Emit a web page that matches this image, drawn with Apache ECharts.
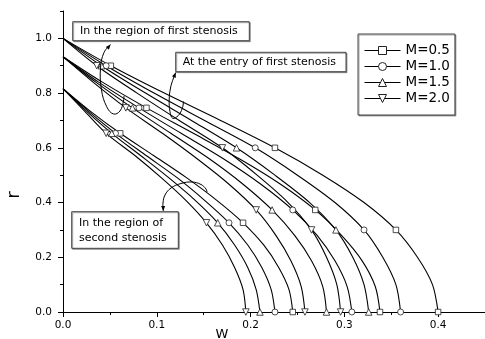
<!DOCTYPE html>
<html><head><meta charset="utf-8">
<script src="https://cdn.jsdelivr.net/npm/echarts@6/dist/echarts.min.js"></script>
<style>html,body{margin:0;padding:0;background:#fff}#c{width:485px;height:339px}</style>
</head><body><div id="c"></div>
<script>
// ---- data ----
const seriesNames = ['M=0.5', 'M=1.0', 'M=1.5', 'M=2.0'];
const xTicks = [0, 0.1, 0.2, 0.3, 0.4];
const xMinorTicks = [0.05, 0.15, 0.25, 0.35];
const yTicks = [0, 0.2, 0.4, 0.6, 0.8, 1.0];
const yMinorTicks = [0.1, 0.3, 0.5, 0.7, 0.9, 1.1];

// radial positions r for the three profile groups
const rFirstRegion = [1.0, 0.9, 0.8, 0.7, 0.6, 0.5, 0.4, 0.3, 0.2, 0.1, 0.0];
const rFirstEntry  = [0.933, 0.840, 0.746, 0.653, 0.560, 0.467, 0.373, 0.280, 0.187, 0.093, 0.0];
const rSecond      = [0.816, 0.734, 0.653, 0.571, 0.490, 0.408, 0.326, 0.245, 0.163, 0.082, 0.0];

// indices of the points carrying a marker
const markFirstRegion = [1, 4, 7, 10];
const markFirstEntry  = [2, 6, 10];
const markSecond      = [2, 6, 10];

// axial velocity w  (in the region of first stenosis)
const wFirstRegion_M05 = [0, 0.051, 0.108, 0.168, 0.226, 0.277, 0.321, 0.355, 0.378, 0.394, 0.400];
const wFirstRegion_M10 = [0, 0.046, 0.097, 0.151, 0.205, 0.250, 0.290, 0.321, 0.341, 0.355, 0.360];
const wFirstRegion_M15 = [0, 0.041, 0.088, 0.137, 0.185, 0.226, 0.263, 0.291, 0.309, 0.321, 0.326];
const wFirstRegion_M20 = [0, 0.036, 0.079, 0.124, 0.170, 0.207, 0.240, 0.265, 0.281, 0.292, 0.296];
// at the entry of first stenosis
const wFirstEntry_M05 = [0, 0.042, 0.089, 0.139, 0.188, 0.232, 0.269, 0.297, 0.319, 0.333, 0.338];
const wFirstEntry_M10 = [0, 0.038, 0.081, 0.126, 0.171, 0.211, 0.245, 0.271, 0.290, 0.303, 0.308];
const wFirstEntry_M15 = [0, 0.035, 0.074, 0.115, 0.156, 0.192, 0.223, 0.247, 0.265, 0.277, 0.281];
const wFirstEntry_M20 = [0, 0.032, 0.067, 0.106, 0.143, 0.177, 0.206, 0.227, 0.243, 0.254, 0.258];
// in the region of second stenosis
const wSecond_M05 = [0, 0.029, 0.061, 0.097, 0.132, 0.164, 0.192, 0.214, 0.230, 0.241, 0.245];
const wSecond_M10 = [0, 0.027, 0.056, 0.089, 0.122, 0.151, 0.177, 0.197, 0.212, 0.222, 0.226];
const wSecond_M15 = [0, 0.025, 0.052, 0.083, 0.113, 0.141, 0.165, 0.183, 0.197, 0.206, 0.210];
const wSecond_M20 = [0, 0.023, 0.046, 0.077, 0.105, 0.131, 0.153, 0.170, 0.183, 0.192, 0.195];

// ---- chart ----
const FONT = 'DejaVu Sans';
const groups = [
  { r: rFirstRegion, marks: markFirstRegion, w: [wFirstRegion_M05, wFirstRegion_M10, wFirstRegion_M15, wFirstRegion_M20] },
  { r: rFirstEntry,  marks: markFirstEntry,  w: [wFirstEntry_M05, wFirstEntry_M10, wFirstEntry_M15, wFirstEntry_M20] },
  { r: rSecond,      marks: markSecond,      w: [wSecond_M05, wSecond_M10, wSecond_M15, wSecond_M20] }
];
const symbols = ['rect', 'circle', 'triangle', 'path://M0,0L10,0L5,8.66Z'];
const symSizes = [5.5, 6, 6.5, 6.5];

const series = [];
groups.forEach(g => g.w.forEach((ws, k) => {
  series.push({
    type: 'line', name: seriesNames[k], xAxisIndex: 0, yAxisIndex: 0,
    smooth: 0.3, symbol: symbols[k], symbolSize: symSizes[k],
    lineStyle: { color: '#000', width: 1.1 },
    itemStyle: { color: '#fff', borderColor: '#222', borderWidth: 0.8 },
    emphasis: { disabled: true },
    data: ws.map((w, i) => ({ value: [w, g.r[i]], symbol: g.marks.includes(i) ? symbols[k] : 'none' })),
    z: 2
  });
}));

function box(x, y, w, h) {
  return { type: 'rect', z: 50, shape: { x, y, width: w, height: h },
    style: { fill: '#fff', stroke: '#444', lineWidth: 1, shadowColor: 'rgba(0,0,0,0.35)', shadowOffsetX: 1, shadowOffsetY: 1 } };
}
function txt(x, y, t, size) {
  return { type: 'text', z: 51, x, y,
    style: { text: t, font: size + 'px "' + FONT + '"', fill: '#000', verticalAlign: 'middle', align: 'left' } };
}
function arrow(points) {
  const tip = points[0], p = points[1];
  let dx = tip[0] - p[0], dy = tip[1] - p[1];
  const L = Math.hypot(dx, dy); dx /= L; dy /= L;
  const len = 5, hw = 2;
  const bx = tip[0] - dx * len, by = tip[1] - dy * len;
  return [
    { type: 'polyline', z: 40, shape: { points, smooth: 0.4 }, style: { stroke: '#000', lineWidth: 1, fill: null } },
    { type: 'polygon', z: 41, shape: { points: [tip, [bx - dy * hw, by + dx * hw], [bx + dy * hw, by - dx * hw]] }, style: { fill: '#000' } }
  ];
}

const graphic = [
  box(72.7, 21.7, 176.6, 19), txt(80, 31.4, 'In the region of first stenosis', 11),
  box(175.7, 52.3, 170.3, 19.4), txt(182.7, 62.2, 'At the entry of first stenosis', 11),
  box(71.7, 211.7, 106.6, 36.6), txt(79, 223.5, 'In the region of', 11), txt(79, 238.3, 'second stenosis', 11),
  ...arrow([[110.5, 44.5], [104, 52.5], [100.5, 68], [101.5, 90], [106.7, 106.7], [113.5, 114], [120, 111], [123.5, 101], [124, 96]]),
  ...arrow([[175.8, 72.5], [173.5, 78], [170.5, 88], [169.2, 100], [170, 111.7], [172.7, 118.3], [178.3, 115.5], [182.3, 108.3], [183.5, 101.5]]),
  ...arrow([[163.3, 211], [163, 203], [165, 195], [171, 188], [181, 183.5], [192, 182], [201, 184.5], [206, 189], [207, 192]]),
  { type: 'text', z: 51, x: 222, y: 335,
    style: { text: 'W', font: '13px "' + FONT + '"', fill: '#000', verticalAlign: 'middle', align: 'center' } },
  { type: 'text', z: 51, x: 14, y: 195, rotation: Math.PI / 2,
    style: { text: 'r', font: '18px "' + FONT + '"', fill: '#000', verticalAlign: 'middle', align: 'center' } }
];

const axisCommon = { type: 'value', splitLine: { show: false } };
const labelStyle = { color: '#000', fontFamily: FONT, fontSize: 10.5 };

const option = {
  animation: false,
  backgroundColor: '#fff',
  grid: { left: 63, top: 11, width: 423, height: 301 },
  legend: {
    data: seriesNames, orient: 'vertical', left: 358, top: 34,
    padding: [9, 5, 9, 6], itemWidth: 36, itemHeight: 10, itemGap: 1,
    borderColor: '#444', borderWidth: 1, backgroundColor: '#fff',
    shadowColor: 'rgba(0,0,0,0.35)', shadowOffsetX: 1, shadowOffsetY: 1,
    selectedMode: false,
    itemStyle: { color: '#fff', borderColor: '#222', borderWidth: 1 },
    lineStyle: { color: '#000', width: 1 },
    textStyle: { color: '#000', fontFamily: FONT, fontSize: 13.5, lineHeight: 15 }
  },
  xAxis: [
    Object.assign({}, axisCommon, { min: 0, max: 0.45, position: 'bottom',
      axisLine: { show: true, onZero: false, lineStyle: { color: '#000', width: 1 } },
      axisTick: { show: true, inside: false, length: 5, customValues: xTicks, lineStyle: { color: '#000' } },
      axisLabel: Object.assign({ customValues: xTicks, margin: 8, formatter: v => v.toFixed(1) }, labelStyle) }),
    Object.assign({}, axisCommon, { min: 0, max: 0.45, position: 'bottom',
      axisLine: { show: false, onZero: false },
      axisTick: { show: true, inside: false, length: 3, customValues: xMinorTicks, lineStyle: { color: '#000' } },
      axisLabel: { show: false } })
  ],
  yAxis: [
    Object.assign({}, axisCommon, { min: 0, max: 1.1, position: 'left',
      axisLine: { show: true, onZero: false, lineStyle: { color: '#000', width: 1 } },
      axisTick: { show: true, inside: false, length: 5, customValues: yTicks, lineStyle: { color: '#000' } },
      axisLabel: Object.assign({ customValues: yTicks, margin: 11, formatter: v => v.toFixed(1) }, labelStyle) }),
    Object.assign({}, axisCommon, { min: 0, max: 1.1, position: 'left',
      axisLine: { show: false, onZero: false },
      axisTick: { show: true, inside: false, length: 3, customValues: yMinorTicks, lineStyle: { color: '#000' } },
      axisLabel: { show: false } })
  ],
  series,
  graphic
};
const chart = echarts.init(document.getElementById('c'), null, { renderer: 'canvas' });
chart.setOption(option);
</script></body></html>
